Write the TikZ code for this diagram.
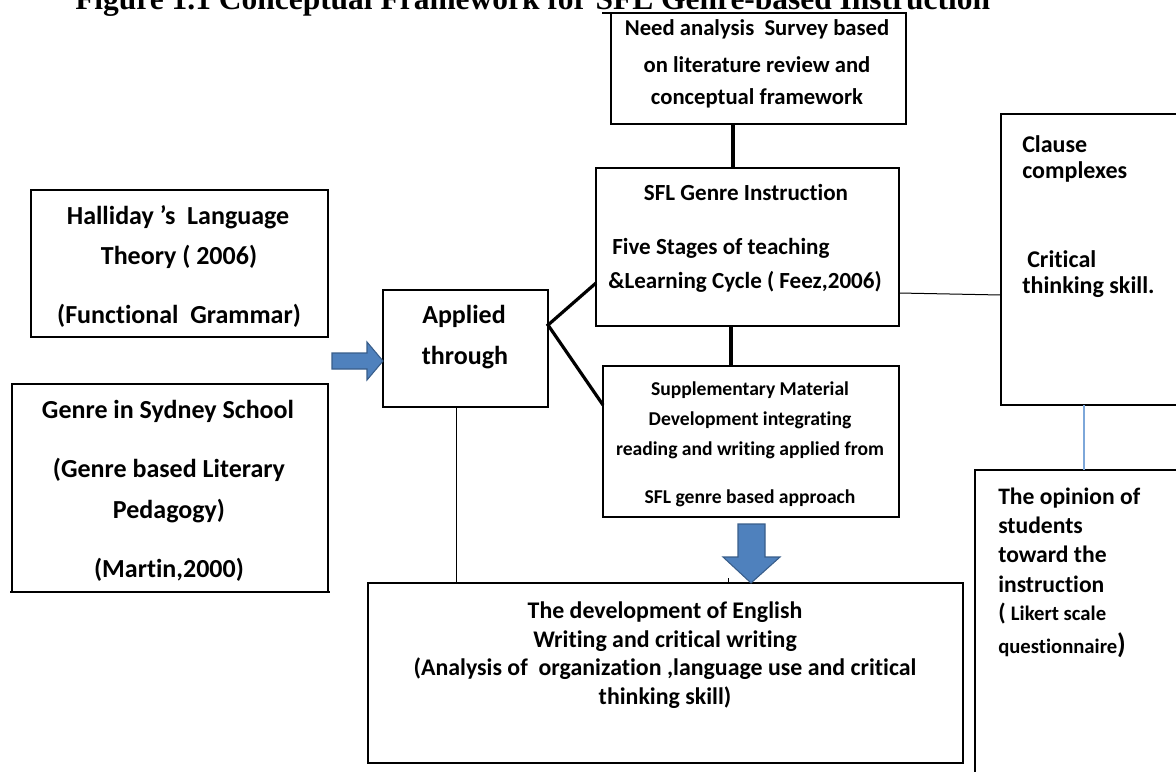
\documentclass[tikz,border=0pt]{standalone}
\usepackage{fontspec}
\setmainfont{Carlito}[Ligatures={NoCommon,NoRare}]
\newfontfamily\titlefont{Liberation Serif}
\usetikzlibrary{fit}
\definecolor{arrowblue}{HTML}{4F81BD}
\definecolor{arrowedge}{HTML}{385D8A}
\definecolor{linkblue}{HTML}{7DA7D9}
\tikzset{
  box/.style={draw, line width=1.1pt, inner sep=0pt, outer sep=0pt},
  heavy/.style={line width=2.4pt},
  thinline/.style={line width=0.75pt},
  bluelink/.style={line width=0.9pt, draw=linkblue},
  fatarrow/.style={fill=arrowblue, draw=arrowedge, line width=0.8pt, line join=miter},
  txt/.style={inner sep=0pt, anchor=base},
  txtw/.style={inner sep=0pt, anchor=base west},
  fA/.style={font=\bfseries\fontsize{19.5}{23}\selectfont},
  fB/.style={font=\bfseries\fontsize{17}{20}\selectfont},
  fC/.style={font=\bfseries\fontsize{17.3}{20}\selectfont},
  fD/.style={font=\bfseries\fontsize{14.7}{18}\selectfont},
  fE/.style={font=\bfseries\fontsize{18}{21}\selectfont},
  fF/.style={font=\bfseries\fontsize{17.7}{21}\selectfont},
  fG/.style={font=\bfseries\fontsize{17.9}{21}\selectfont},
  fT/.style={font=\titlefont\bfseries\fontsize{23.6}{28}\selectfont},
}
\begin{document}
\begin{tikzpicture}[x=0.75pt,y=-0.75pt]
\useasboundingbox (0,0) rectangle (1176,771);
\clip (0,0) rectangle (1176,771);

% title
\node[txtw, fT] (title) at (75,9) {Figure 1.1 Conceptual Framework for SFL Genre-based Instruction};
\coordinate (ulA) at (602,13);
\coordinate (ulB) at (906,13);
\draw[line width=1.6pt] (ulA) -- (ulB);

% boxes
\node[box, fit={(611,13) (906,124)}] (need) {};
\node[box, fit={(596,168) (899,326)}] (sfl) {};
\node[box, fit={(603,366) (899,517)}] (supp) {};
\node[box, fit={(383,290) (548,407)}] (applied) {};
\node[box, fit={(31,190) (328,337)}] (halliday) {};
\node[box, fit={(12,384) (328,592)}] (genre) {};
\node[box, fit={(1001,114) (1190,405)}] (clause) {};
\node[box, fit={(975,470) (1190,790)}] (opinion) {};
\node[box, fit={(368,583) (963,763)}] (bottom) {};
\draw[box] ([xshift=-1.5pt]genre.south west) -- ([xshift=1.5pt]genre.south east);

% texts: need
\node[txt, fB] (n1) at (757,35) {Need analysis\ \ Survey based};
\node[txt, fB] (n2) at (757,72) {on literature review and};
\node[txt, fB] (n3) at (757,104) {conceptual framework};
% sfl
\node[txt, fC] (s1) at (746,200) {SFL Genre Instruction};
\node[txtw, fC] (s2) at (612,254) {Five Stages of teaching};
\node[txtw, fC] (s3) at (608,288) {\&Learning Cycle ( Feez,2006)};
% supp
\node[txt, fD] (p1) at (750,395) {Supplementary Material};
\node[txt, fD] (p2) at (750,425) {Development integrating};
\node[txt, fD] (p3) at (750,455) {reading and writing applied from};
\node[txt, fD] (p4) at (750,503) {SFL genre based approach};
% applied
\node[txt, fA] (a1) at (464,323) {Applied};
\node[txt, fA] (a2) at (465,364) {through};
% halliday
\node[txt, fA] (h1) at (178,224) {Halliday ’s\ \ Language};
\node[txt, fA] (h2) at (179,264) {Theory ( 2006)};
\node[txt, fA] (h3) at (179,323) {(Functional\ \ Grammar)};
% genre
\node[txt, fA] (g1) at (168,418) {Genre in Sydney School};
\node[txt, fA] (g2) at (169,477) {(Genre based Literary};
\node[txt, fA] (g3) at (169,518) {Pedagogy)};
\node[txt, fA] (g4) at (169,577) {(Martin,2000)};
% clause
\node[txtw, fE] (c1) at (1022,152) {Clause};
\node[txtw, fE] (c2) at (1022,178) {complexes};
\node[txtw, fE] (c3) at (1027,267) {Critical};
\node[txtw, fE] (c4) at (1022,293) {thinking skill.};
% opinion
\node[txtw, fF] (o1) at (998,504) {The opinion of};
\node[txtw, fF] (o2) at (998,533) {students};
\node[txtw, fF] (o3) at (998,562) {toward the};
\node[txtw, fF] (o4) at (998,592) {instruction};
\node[txtw, fF] (o5) at (998,620) {( {\fontsize{15.5}{18}\selectfont Likert scale}};
\node[txtw, font=\bfseries\fontsize{15.5}{18}\selectfont] (o6) at (998,653) {questionnaire{\fontsize{21}{24}\selectfont)}};
% bottom
\node[txt, fG] (b1) at (665,618) {The development of English};
\node[txt, fG] (b2) at (665,647) {Writing and critical writing};
\node[txt, fG] (b3) at (665,675) {(Analysis of\ \ organization ,language use and critical};
\node[txt, fG] (b4) at (665,704) {thinking skill)};

% connectors
\draw[heavy] (need.south -| 733,0) -- (sfl.north -| 733,0);
\draw[heavy] (sfl.south -| 731,0) -- (supp.north -| 731,0);
\coordinate (fork) at (applied.east |- 0,325);
\draw[heavy, line join=miter] (sfl.west |- 0,283) -- (fork) -- (supp.west |- 0,405);
\draw[thinline] (sfl.east |- 0,293) -- (clause.west |- 0,295);
\draw[bluelink] (clause.south -| 1084,0) -- (opinion.north -| 1084,0);
\draw[thinline] (applied.south -| 456,0) -- (bottom.north -| 456,0);
\coordinate (tick) at (bottom.north -| 728,0);
\draw[thinline] (tick) -- ++(0,-5);

% fat arrows
\coordinate (rtip) at (applied.west |- 0,361);
\filldraw[fatarrow] (rtip) -- ++(-16,-19) -- ++(0,11) -- ++(-35,0) -- ++(0,16) -- ++(35,0) -- ++(0,11) -- cycle;
\coordinate (dtip) at (bottom.north -| 751,0);
\filldraw[fatarrow] (dtip) -- ++(29,-26) -- ++(-15,0) -- ++(0,-33) -- ++(-27,0) -- ++(0,33) -- ++(-15,0) -- cycle;
\end{tikzpicture}
\end{document}
